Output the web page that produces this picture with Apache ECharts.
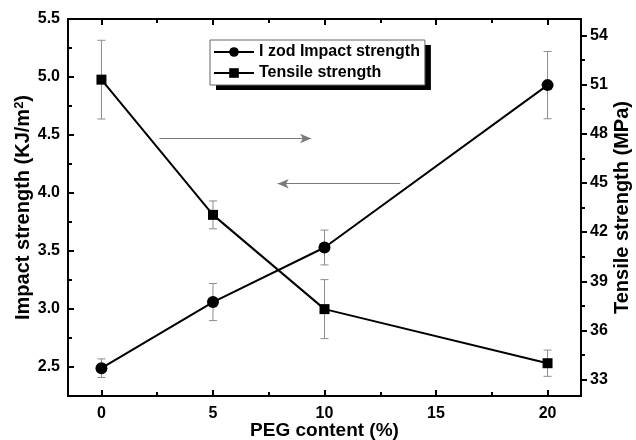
<!DOCTYPE html>
<html>
<head>
<meta charset="utf-8">
<script src="https://cdn.jsdelivr.net/npm/echarts@6/dist/echarts.min.js"></script>
<style>
html,body{margin:0;padding:0;background:#fff;}
#chart{width:636px;height:440px;}
</style>
</head>
<body>
<div id="chart"></div>
<script>
const pegContent = [0, 5, 10, 20];
const impactStrength = [2.49, 3.06, 3.53, 4.93];
const impactErr = [0.08, 0.16, 0.15, 0.29];
const tensileStrength = [51.3, 43.05, 37.3, 34.0];
const tensileErr = [2.4, 0.85, 1.8, 0.8];
const xTicks = [0, 5, 10, 15, 20];
const leftTicks = [2.5, 3.0, 3.5, 4.0, 4.5, 5.0, 5.5];
const rightTicks = [33, 36, 39, 42, 45, 48, 51, 54];
const seriesNames = ['I zod Impact strength', 'Tensile strength'];
const axisNames = ['PEG content (%)', 'Impact strength (KJ/m{sup|2})', 'Tensile strength (MPa)'];

const FONT = '"Liberation Sans", Arial, Helvetica, sans-serif';
const lbl = {color: '#000', fontFamily: FONT, fontWeight: 'bold', fontSize: 16};
const nameStyle = {color: '#000', fontFamily: FONT, fontWeight: 'bold', fontSize: 19};
const yNameStyle = {color: '#000', fontFamily: FONT, fontWeight: 'bold', fontSize: 20};
const axLine = {show: true, onZero: false, lineStyle: {color: '#000', width: 2}};

function errorRender(params, api) {
  const x = api.value(0), lo = api.value(1), hi = api.value(2);
  const a = api.coord([x, lo]), b = api.coord([x, hi]);
  const hw = 4;
  const style = {stroke: '#8c8c8c', lineWidth: 1};
  return {type: 'group', children: [
    {type: 'line', shape: {x1: a[0], y1: a[1], x2: b[0], y2: b[1]}, style: style},
    {type: 'line', shape: {x1: a[0] - hw, y1: a[1], x2: a[0] + hw, y2: a[1]}, style: style},
    {type: 'line', shape: {x1: b[0] - hw, y1: b[1], x2: b[0] + hw, y2: b[1]}, style: style}
  ]};
}

const impactData = pegContent.map((x, i) => [x, impactStrength[i]]);
const tensileData = pegContent.map((x, i) => [x, tensileStrength[i]]);
const impactErrData = pegContent.map((x, i) => [x, impactStrength[i] - impactErr[i], impactStrength[i] + impactErr[i]]);
const tensileErrData = pegContent.map((x, i) => [x, tensileStrength[i] - tensileErr[i], tensileStrength[i] + tensileErr[i]]);

const legendBase = {
  data: seriesNames,
  orient: 'vertical',
  left: 210, top: 40,
  itemWidth: 40, itemHeight: 12, itemGap: 5,
  padding: [4, 5, 4, 3],
  selectedMode: false,
  textStyle: {color: '#000', fontFamily: FONT, fontWeight: 'bold', fontSize: 16}
};

const chart = echarts.init(document.getElementById('chart'), null, {renderer: 'canvas'});
chart.setOption({
  animation: false,
  backgroundColor: '#fff',
  grid: {left: 68, right: 55, top: 19, bottom: 44, containLabel: false, outerBoundsMode: 'none'},
  legend: [
    Object.assign({}, legendBase, {
      backgroundColor: '#fff', borderWidth: 0,
      shadowColor: '#000', shadowBlur: 0, shadowOffsetX: 6, shadowOffsetY: 5
    }),
    Object.assign({}, legendBase, {
      backgroundColor: 'transparent', borderColor: '#666', borderWidth: 1,
      textStyle: Object.assign({}, legendBase.textStyle, {color: 'rgba(0,0,0,0)'}),
      itemStyle: {opacity: 0}, lineStyle: {opacity: 0}
    })
  ],
  xAxis: [
    {
      type: 'value', position: 'bottom', min: -1.5, max: 21.5, splitNumber: 5,
      name: axisNames[0], nameLocation: 'middle', nameGap: 25, nameMoveOverlap: false, nameTextStyle: nameStyle,
      axisLine: axLine,
      axisTick: {inside: true, length: 6, lineStyle: {color: '#000', width: 2}, customValues: xTicks},
      minorTick: {show: true, splitNumber: 2, length: 4, lineStyle: {color: '#000', width: 2}},
      axisLabel: Object.assign({margin: 10, customValues: xTicks}, lbl),
      splitLine: {show: false}
    },
    {
      type: 'value', position: 'top', min: -1.5, max: 21.5, splitNumber: 5,
      axisLine: axLine,
      axisTick: {inside: true, length: 6, lineStyle: {color: '#000', width: 2}, customValues: xTicks},
      minorTick: {show: true, splitNumber: 2, length: 4, lineStyle: {color: '#000', width: 2}},
      axisLabel: {show: false},
      splitLine: {show: false}
    }
  ],
  yAxis: [
    {
      type: 'value', position: 'left', min: 2.25, max: 5.5, splitNumber: 6,
      name: axisNames[1], nameLocation: 'middle', nameGap: 35, nameRotate: 90, nameMoveOverlap: false,
      nameTextStyle: Object.assign({}, yNameStyle, {
        rich: {sup: {fontFamily: FONT, fontWeight: 'bold', fontSize: 13, color: '#000', verticalAlign: 'top', padding: [0, 0, 7, 0]}}
      }),
      axisLine: axLine,
      axisTick: {inside: true, length: 6, lineStyle: {color: '#000', width: 2}, customValues: leftTicks},
      minorTick: {show: true, splitNumber: 2, length: 4, lineStyle: {color: '#000', width: 2}},
      axisLabel: Object.assign({margin: 8, customValues: leftTicks, formatter: v => v.toFixed(1)}, lbl),
      splitLine: {show: false}
    },
    {
      type: 'value', position: 'right', min: 32, max: 55, splitNumber: 8,
      name: axisNames[2], nameLocation: 'middle', nameGap: 31, nameRotate: 90, nameMoveOverlap: false, nameTextStyle: yNameStyle,
      axisLine: axLine,
      axisTick: {inside: false, length: 6, lineStyle: {color: '#000', width: 2}, customValues: rightTicks},
      minorTick: {show: true, splitNumber: 2, length: 4, lineStyle: {color: '#000', width: 2}},
      axisLabel: Object.assign({margin: 9, customValues: rightTicks}, lbl),
      splitLine: {show: false}
    }
  ],
  series: [
    {
      type: 'custom', name: 'impactErr', xAxisIndex: 0, yAxisIndex: 0,
      renderItem: errorRender, data: impactErrData, encode: {x: 0, y: [1, 2]}, z: 1, silent: true
    },
    {
      type: 'custom', name: 'tensileErr', xAxisIndex: 0, yAxisIndex: 1,
      renderItem: errorRender, data: tensileErrData, encode: {x: 0, y: [1, 2]}, z: 1, silent: true
    },
    {
      type: 'line', name: seriesNames[0], xAxisIndex: 0, yAxisIndex: 0,
      data: impactData, symbol: 'circle', symbolSize: 12, z: 3,
      lineStyle: {color: '#000', width: 2}, itemStyle: {color: '#000'},
      markLine: {
        silent: true, symbol: ['none', 'arrow'], symbolSize: [7, 11],
        label: {show: false},
        lineStyle: {color: '#7a7a7a', width: 1, type: 'solid'},
        data: [
          [{coord: [2.6, 4.47]}, {coord: [9.4, 4.47]}],
          [{coord: [13.4, 4.08]}, {coord: [7.9, 4.08]}]
        ]
      }
    },
    {
      type: 'line', name: seriesNames[1], xAxisIndex: 0, yAxisIndex: 1,
      data: tensileData, symbol: 'rect', symbolSize: 10, z: 3,
      lineStyle: {color: '#000', width: 2}, itemStyle: {color: '#000'}
    }
  ]
});
</script>
</body>
</html>
